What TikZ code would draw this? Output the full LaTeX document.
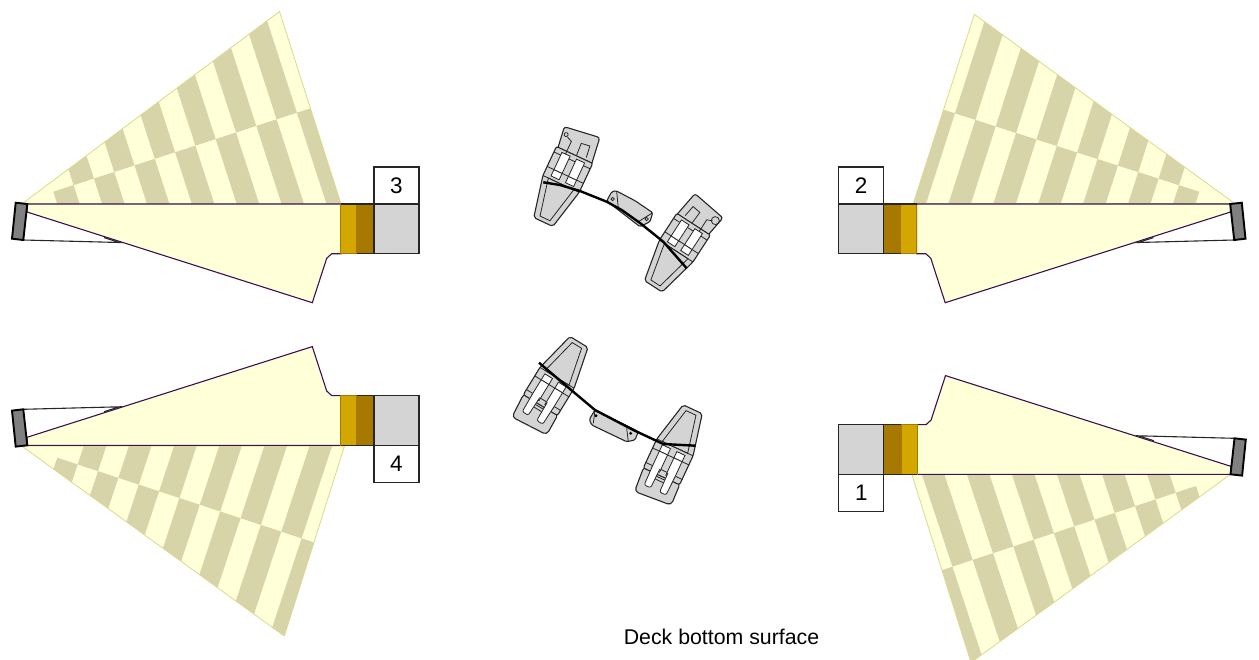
\documentclass[tikz,border=0pt]{standalone}
\usepackage{fontspec}
\setmainfont{Liberation Sans}

% one checker fan: outline, seam start, step along the seam, step along a band
\newcommand{\checkfan}[4]{
   \fill[beam] #1;
   \begin{scope}
      \clip #1;
      \begin{scope}[shift={#2},x={#3},y={#4}]
         \foreach \i in {0,2,...,12} \fill[band] (\i,0) -- ({\i+1},0) -- ({\i+1},14) -- (\i,14) -- cycle;
         \foreach \i in {1,3,...,11} \fill[band] (\i,0) -- ({\i+1},0) -- ({\i+1},-14) -- (\i,-14) -- cycle;
      \end{scope}
   \end{scope}
   \draw[fanline] #1;
}
% one sensor arm, written for the top left corner
\newcommand{\sensorarm}[1]{
   \filldraw[beam,hull] (27,204) -- (341,204) -- (341,253.7) -- (331.7,253.7) -- (326.7,258.3)
      -- (312.3,302.7) -- (27,212) -- cycle;
   \draw[wire] (23.3,240) -- (119.5,242.5) -- (104,237.6);
   \filldraw[bar] (15.7,202.7) -- (27.3,204) -- (23.3,240) -- (12,238.7) -- cycle;
   \draw[gold,fill=goldlight] (340.7,204) rectangle (356.7,253.7);
   \fill[golddark] (356.7,204) rectangle (374,253.7);
   \draw[wire] (341,204) -- (374,204) (356.7,253.7) -- (374,253.7);
   \node[gaugebox] (gauge#1) at (396.5,228.85) {};
   \node[numbox] (num#1) at (396.5,185.5) {#1};
}
% plate of a clip, tip at the origin and the tab towards +y
\newcommand{\clipbody}{
   \filldraw[plate,rounded corners=2pt] (-10.5,0) -- (10.5,0) -- (20,42) -- (20,74) -- (-20,74) -- (-20,42) -- cycle;
   \draw[thinline] (-5.5,4) -- (5.5,4) -- (14,42) -- (-14,42) -- cycle;
   \draw[thinline] (-20,42) -- (20,42) (-20,52) -- (20,52) (-20,68) -- (20,68);
   \filldraw[slot] (-12.5,45) -- (-3.5,45) -- (-3.5,52) -- (-12.5,52) -- cycle (3.5,45) -- (12.5,45) -- (12.5,52) -- (3.5,52) -- cycle;
   \filldraw[slot] (-12.5,52) -- (-3.5,52) -- (-3.5,71) -- (-12.5,71) -- cycle (3.5,52) -- (12.5,52) -- (12.5,71) -- (3.5,71) -- cycle;
}
\newcommand{\hooktab}[1]{
   \filldraw[plate,rounded corners=2.5pt,rotate around={-8:(0,74)}] (-18,66) -- (-18,98) -- (19,98) -- (19,66) -- cycle;
   \clipbody
   \begin{scope}[rotate around={-8:(0,74)}]
      \draw[thinline] (-9,72) -- (-7,86) -- (-12,89);
      \draw[thinline] (-14,91) circle (#1);
      \draw[thinline] (2,74) -- (3,87) -- (12,87) -- (12,75);
   \end{scope}
}
\newcommand{\slottab}{
   \filldraw[plate,rounded corners=4pt] (-20,72) -- (-21,96) -- (18,99) -- (20,72) -- cycle;
   \clipbody
   \filldraw[slot,rounded corners=2pt] (-12.5,68) -- (-12,89) -- (-5,89) -- (-4.5,68);
   \filldraw[slot,rounded corners=2pt] (4.5,68) -- (5,89) -- (12,89) -- (12.5,68);
   \draw[thinline] (-4.5,76) -- (4.5,76) (-4.5,79) -- (4.5,79);
}

\begin{document}
\begin{tikzpicture}[x=1pt,y=-1pt,
      beam/.style={fill=beamyellow},
      band/.style={fill=bandolive},
      fanline/.style={draw=fanedge,line width=0.8pt},
      hull/.style={draw=hullpurple,line width=1.1pt},
      wire/.style={draw=black!85,line width=1.1pt},
      bar/.style={fill=black!50,draw=black,line width=1.9pt},
      gold/.style={draw=golddark,line width=0.9pt},
      gaugebox/.style={draw=black!85,fill=black!17,line width=1.1pt,minimum width=45pt,minimum height=49.7pt,inner sep=0pt,outer sep=0pt},
      numbox/.style={draw=black!85,fill=white,line width=1.1pt,minimum width=45pt,minimum height=37pt,inner sep=0pt,outer sep=0pt,font=\fontsize{22.5}{24}\selectfont},
      plate/.style={fill=black!17,draw=black!85,line width=1.1pt},
      slot/.style={fill=white,draw=black!85,line width=0.8pt},
      thinline/.style={draw=black!85,line width=0.8pt},
      rail/.style={draw=black,line width=2.4pt,line join=round}]
   \definecolor{beamyellow}{HTML}{FFFFD8}
   \definecolor{bandolive}{HTML}{D6D4A8}
   \definecolor{fanedge}{HTML}{DCD98C}
   \definecolor{hullpurple}{HTML}{3C1050}
   \definecolor{goldlight}{HTML}{D4A700}
   \definecolor{golddark}{HTML}{A87900}
   \useasboundingbox (0,0) rectangle (1259,659);

   \checkfan{(21.7,204) -- (279.5,11.5) -- (341,204) -- cycle}{(53.3,191.7)}{(20.3pt,6.58pt)}{(6.58pt,-20.3pt)}
   \checkfan{(21.7,446) -- (284.3,636) -- (344.5,446) -- cycle}{(57.3,457.7)}{(20.36pt,-6.72pt)}{(-6.72pt,-20.36pt)}
   \checkfan{(1234.7,203.5) -- (974.3,14.3) -- (913.3,203.5) -- cycle}{(1199.3,191.7)}{(-20.36pt,6.53pt)}{(-6.53pt,-20.36pt)}
   \checkfan{(1231,474) -- (971,662.5) -- (911.7,474) -- cycle}{(1196,486)}{(-20.3pt,-6.72pt)}{(6.72pt,-20.3pt)}

   \sensorarm{3}
   \begin{scope}[shift={(0,649.3)},yscale=-1]
      \sensorarm{4}
   \end{scope}
   \begin{scope}[shift={(1257.5,0)},xscale=-1]
      \sensorarm{2}
   \end{scope}
   \begin{scope}[shift={(1257.8,678.3)},xscale=-1,yscale=-1]
      \sensorarm{1}
   \end{scope}

   % clips of the upper pair
   \begin{scope}[shift={(543.3,222)},rotate=-25,yscale=-1]
      \hooktab{2pt}
   \end{scope}
   \begin{scope}[shift={(653.3,286.3)},rotate=-33,yscale=-1,xscale=-1]
      \hooktab{4pt}
   \end{scope}
   \filldraw[plate,rounded corners=1.5pt] (606.7,201) -- (611.7,191.7) -- (616,190.7) -- (635,200.7) -- (652.7,212.7)
      -- (650,221.7) -- (640,226.7) -- cycle;
   \draw[thinline] (616.7,191.7) -- (618.3,208.3) (652.7,212.7) -- (638.3,221.7);
   \draw[thinline] (612.7,199) circle (1.7pt) (646.7,219) circle (1.7pt);
   \draw[rail] (543.3,182.3) -- (560,185) -- (580,191) -- (606.7,201.7) -- (621.7,210) -- (640,223) -- (663.3,241.7) -- (686.7,268.3);

   % clips of the lower pair
   \begin{scope}[shift={(579,342)},rotate=148.5,yscale=-1]
      \slottab
   \end{scope}
   \begin{scope}[shift={(692.7,409.3)},rotate=155,yscale=-1]
      \slottab
   \end{scope}
   \filldraw[plate,rounded corners=1.5pt] (589.3,419.3) -- (595,410) -- (632,428.3) -- (638.3,431.7) -- (635,440)
      -- (626.7,441.7) -- (591.7,425) -- cycle;
   \draw[thinline] (595,410) -- (593.3,423.3) (626.7,428.3) -- (628.3,441.7);
   \fill[black] (596,415.7) circle (1.6pt) (630.7,433.3) circle (1.6pt);
   \draw[rail] (539,362.7) -- (570,389) -- (595,410) -- (633.3,430) -- (663.3,444) -- (695.7,445.7);

   \node[font=\fontsize{21.3}{24}\selectfont,inner sep=0pt] (caption) at (721.5,637) {Deck bottom surface};
\end{tikzpicture}
\end{document}
